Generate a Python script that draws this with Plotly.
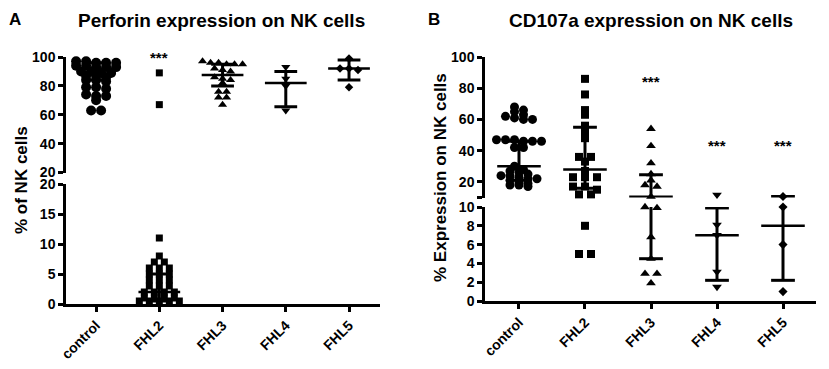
import plotly.graph_objects as go

# ---------------- data ----------------
categories = ["control", "FHL2", "FHL3", "FHL4", "FHL5"]
symbols = ["circle", "square", "triangle-up", "triangle-down", "diamond"]

# Panel A: Perforin expression (% of NK cells)
perf_control = [97, 97, 96, 96, 96, 94, 94, 93, 93, 93, 90, 90, 89, 89, 87, 87, 86,
                84, 84, 83, 79, 79, 78, 74, 73, 73, 70, 63, 63]
perf_fhl2 = [89, 67, 11, 8, 7, 7, 6, 6, 6, 5, 5, 5, 4, 4, 4, 3, 3, 3, 2, 2, 2, 2,
             1, 1, 1, 1, 0.5, 0.5, 0.5, 0.5, 0.5]
perf_fhl3 = [97, 96, 96, 95, 95, 95, 92, 91, 90, 86, 85, 84, 82, 76, 76, 72, 72, 67]
perf_fhl4 = [93, 85, 80, 63]
perf_fhl5 = [99, 92, 92, 91, 79]
perf_median = [92, 2, 87.5, 82, 92]
perf_q1 = [84, 0.5, 80, 65.5, 84]
perf_q3 = [96, 5, 95, 90, 98]
perf_stars = ["", "***", "", "", ""]
perf_star_y = [None, 100, None, None, None]

# Panel B: CD107a expression (% Expression on NK cells)
cd_control = [68, 66, 65, 63, 62, 61, 60, 60, 47, 47, 47, 46, 46, 46, 42, 42, 30, 28, 27,
              26, 25, 24, 24, 23, 22, 22, 21, 20, 19, 18, 18, 17]
cd_fhl2 = [86, 76, 66, 63, 56, 52, 48, 36, 36, 33, 27, 23, 23, 23, 17, 17, 15, 12, 12, 8, 5, 5]
cd_fhl3 = [54, 43, 32, 25, 21, 18, 17, 10.5, 10, 9.9, 6.8, 4.5, 2.9, 2.9, 1.9]
cd_fhl4 = [11.7, 8.1, 7.0, 3.1, 1.5]
cd_fhl5 = [10.6, 10.0, 6.0, 1.0]
cd_median = [30, 28, 10.5, 7.0, 8.0]
cd_q1 = [21, 16, 4.5, 2.2, 2.2]
cd_q3 = [46, 55, 24.5, 9.9, 10.6]
cd_stars = ["", "", "***", "***", "***"]
cd_star_y = [None, None, 84, 43, 43]

perf_ticks_upper = [20, 40, 60, 80, 100]
perf_ticks_lower = [0, 5, 10, 15, 20]
cd_ticks_upper = [10, 20, 40, 60, 80, 100]
cd_ticklabels_upper = ["", "20", "40", "60", "80", "100"]
cd_ticks_lower = [0, 2, 4, 6, 8, 10]

# ---------------- layout constants ----------------
W, H = 829, 369          # window size
OFF = 8                  # default page body margin
FW, FH = W - 2 * OFF, H - 2 * OFF   # figure size
FONT = "Liberation Sans, Arial, sans-serif"


def dom_x(a, b):
    return [(a - OFF) / FW, (b - OFF) / FW]


def dom_y(top_px, bottom_px):
    return [1 - (bottom_px - OFF) / FH, 1 - (top_px - OFF) / FH]


panels = [
    dict(groups=[perf_control, perf_fhl2, perf_fhl3, perf_fhl4, perf_fhl5],
         med=perf_median, q1=perf_q1, q3=perf_q3, stars=perf_stars, star_y=perf_star_y,
         xdom=dom_x(66, 380), xrange=[-0.476, 4.49],
         low_dom=dom_y(184, 304), low_range=[0, 20],
         up_dom=dom_y(57, 172.5), up_range=[20, 100],
         xa="x", ya_low="y", ya_up="y2",
         sizes=[10, 7, 8, 8, 6.5], spacing=[10, 10, 8, 9, 9]),
    dict(groups=[cd_control, cd_fhl2, cd_fhl3, cd_fhl4, cd_fhl5],
         med=cd_median, q1=cd_q1, q3=cd_q3, stars=cd_stars, star_y=cd_star_y,
         xdom=dom_x(485, 816), xrange=[-0.515, 4.5],
         low_dom=dom_y(207, 301), low_range=[0, 10],
         up_dom=dom_y(57, 197.5), up_range=[10, 100],
         xa="x2", ya_low="y3", ya_up="y4",
         sizes=[9, 8, 8.5, 8.5, 7], spacing=[9, 12, 12, 12, 12]),
]


def ypix(v, dom, rng):
    frac = dom[0] + (v - rng[0]) / (rng[1] - rng[0]) * (dom[1] - dom[0])
    return OFF + FH * (1 - frac)


def row_offsets(vals, p, diam, spacing):
    """GraphPad-like scatter: nearby values share a row, row centred on the category."""
    px_per_cat = (p["xdom"][1] - p["xdom"][0]) * FW / (p["xrange"][1] - p["xrange"][0])
    split = p["low_range"][1]
    ys = [ypix(v, p["low_dom"], p["low_range"]) if v <= split else ypix(v, p["up_dom"], p["up_range"])
          for v in vals]
    order = sorted(range(len(vals)), key=lambda i: ys[i])
    rows, cur = [], []
    for i in order:
        if cur and ys[i] - ys[cur[0]] > diam * 0.4:
            rows.append(cur)
            cur = []
        cur.append(i)
    if cur:
        rows.append(cur)
    offs = [0.0] * len(vals)
    for r in rows:
        k = len(r)
        for j, i in enumerate(r):
            offs[i] = (j - (k - 1) / 2) * spacing / px_per_cat
    return offs


fig = go.Figure()
MED_HALF, CAP_HALF = 0.33, 0.18

for p in panels:
    split = p["low_range"][1]
    for gi, vals in enumerate(p["groups"]):
        offs = row_offsets(vals, p, p["sizes"][gi], p["spacing"][gi])
        for seg, ya in (("low", p["ya_low"]), ("up", p["ya_up"])):
            idx = [i for i, v in enumerate(vals) if (v <= split) == (seg == "low")]
            if not idx:
                continue
            fig.add_trace(go.Scatter(
                x=[gi + offs[i] for i in idx], y=[vals[i] for i in idx],
                xaxis=p["xa"], yaxis=ya, mode="markers", cliponaxis=False,
                marker=dict(symbol=symbols[gi], size=p["sizes"][gi], color="black",
                            line=dict(width=0)),
                hoverinfo="skip"))
    # median / IQR lines
    for seg, ya, rng in (("low", p["ya_low"], p["low_range"]), ("up", p["ya_up"], p["up_range"])):
        mx, my, ex, ey = [], [], [], []
        for gi in range(len(categories)):
            m, a, b = p["med"][gi], p["q1"][gi], p["q3"][gi]
            if rng[0] <= m <= rng[1]:
                mx += [gi - MED_HALF, gi + MED_HALF, None]
                my += [m, m, None]
            for c in (a, b):
                if rng[0] <= c <= rng[1]:
                    ex += [gi - CAP_HALF, gi + CAP_HALF, None]
                    ey += [c, c, None]
            lo, hi = max(a, rng[0]), min(b, rng[1])
            if lo < hi:
                ex += [gi, gi, None]
                ey += [lo, hi, None]
        for xx, yy, w in ((mx, my, 2.5), (ex, ey, 3)):
            if xx:
                fig.add_trace(go.Scatter(x=xx, y=yy, xaxis=p["xa"], yaxis=ya, mode="lines",
                                         line=dict(color="black", width=w), hoverinfo="skip"))
    # significance stars
    for gi, s in enumerate(p["stars"]):
        if s:
            seg_ya = p["ya_up"] if p["star_y"][gi] > split else p["ya_low"]
            fig.add_annotation(x=gi, y=p["star_y"][gi], xref=p["xa"], yref=seg_ya, text="<b>" + s + "</b>",
                               showarrow=False, font=dict(size=15, family=FONT, color="black"),
                               xanchor="center", yanchor="middle")

axis_common = dict(showline=True, linecolor="black", linewidth=2.5, ticks="outside", ticklen=5,
                   tickwidth=2.5, tickcolor="black", showgrid=False, zeroline=False, automargin=False,
                   tickfont=dict(size=14, family=FONT, color="black", weight="bold"))
xfont = dict(size=14, family=FONT, color="black", weight="bold")

pa, pb = panels
fig.update_layout(
    template="none",
    width=FW, height=FH, margin=dict(l=0, r=0, t=0, b=0, pad=0, autoexpand=False), autosize=False,
    plot_bgcolor="white", paper_bgcolor="white", showlegend=False,
    font=dict(family=FONT, color="black"),
    xaxis=dict(domain=pa["xdom"], range=pa["xrange"], anchor="y", tickvals=list(range(5)),
               ticktext=categories, tickangle=-45, **{**axis_common, "tickfont": xfont}),
    yaxis=dict(domain=pa["low_dom"], range=pa["low_range"], anchor="x", tickvals=perf_ticks_lower,
               ticktext=[str(t) for t in perf_ticks_lower], **axis_common),
    yaxis2=dict(domain=pa["up_dom"], range=pa["up_range"], anchor="x", tickvals=perf_ticks_upper,
                ticktext=[str(t) for t in perf_ticks_upper], **axis_common),
    xaxis2=dict(domain=pb["xdom"], range=pb["xrange"], anchor="y3", tickvals=list(range(5)),
                ticktext=categories, tickangle=-45, **{**axis_common, "tickfont": xfont}),
    yaxis3=dict(domain=pb["low_dom"], range=pb["low_range"], anchor="x2", tickvals=cd_ticks_lower,
                ticktext=[str(t) for t in cd_ticks_lower], **axis_common),
    yaxis4=dict(domain=pb["up_dom"], range=pb["up_range"], anchor="x2", tickvals=cd_ticks_upper,
                ticktext=cd_ticklabels_upper, **axis_common),
)


def ann(text, x, y, size, angle=0, xanchor="center", yanchor="middle"):
    fig.add_annotation(x=(x - OFF) / FW, y=1 - (y - OFF) / FH, xref="paper", yref="paper",
                       text="<b>" + text + "</b>", showarrow=False, textangle=angle,
                       xanchor=xanchor, yanchor=yanchor,
                       font=dict(size=size, family=FONT, color="black"))


# titles anchored at their top just inside the page area
ann("A", 15, 8, 17, yanchor="top")
ann("Perforin expression on NK cells", 221, 8, 19, yanchor="top")
ann("B", 434, 8, 17, yanchor="top")
ann("CD107a expression on NK cells", 651, 8, 19, yanchor="top")
ann("% of NK cells", 22, 180, 17, angle=-90)
ann("% Expression on NK cells", 440, 178, 17, angle=-90)

fig.write_html("out.html")
